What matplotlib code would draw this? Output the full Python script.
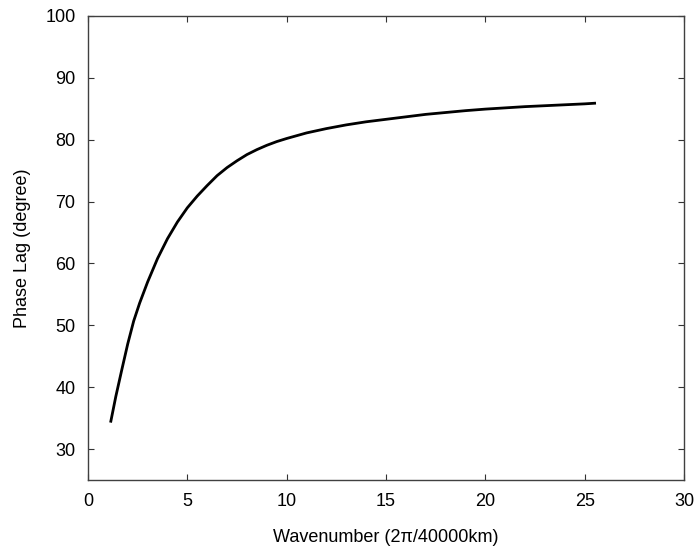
import matplotlib
matplotlib.use("Agg")
import matplotlib.pyplot as plt

# values
wavenumber = [1.15, 1.4, 1.7, 2.0, 2.3, 2.6, 3.0, 3.5, 4.0, 4.5, 5.0, 5.5,
              6.0, 6.5, 7.0, 7.5, 8.0, 8.5, 9.0, 9.5, 10.0, 11.0, 12.0, 13.0,
              14.0, 15.0, 16.0, 17.0, 18.0, 19.0, 20.0, 21.0, 22.0, 23.0,
              24.0, 25.0, 25.5]
phase_lag = [34.5, 38.5, 42.8, 47.0, 50.7, 53.6, 57.0, 60.8, 64.0, 66.7, 69.0, 70.9,
             72.6, 74.2, 75.5, 76.6, 77.6, 78.4, 79.1, 79.7, 80.2, 81.1, 81.8, 82.4,
             82.9, 83.3, 83.7, 84.1, 84.4, 84.7, 84.95, 85.15, 85.35, 85.5,
             85.65, 85.8, 85.9]
xticks = [0, 5, 10, 15, 20, 25, 30]
yticks = [30, 40, 50, 60, 70, 80, 90, 100]

plt.rcParams['font.family'] = ['Liberation Sans', 'DejaVu Sans']
fig = plt.figure(figsize=(6.98, 5.54), dpi=100)
ax = fig.add_axes([88/698, 1-480/554, (684-88)/698, (480-16)/554])

ax.plot(wavenumber, phase_lag, color='black', linewidth=2.0,
        solid_joinstyle='round')

ax.set_xlim(0, 30)
ax.set_ylim(25, 100)
ax.set_xticks(xticks)
ax.set_yticks(yticks)
ax.tick_params(direction='in', top=True, right=True, length=4, width=0.8,
               colors='#333333', labelcolor='black', labelsize=13, pad=9)
for s in ax.spines.values():
    s.set_color('#404040')
    s.set_linewidth(1.0)

ax.set_xlabel('Wavenumber (2\u03c0/40000km)', fontsize=13, labelpad=14)
ax.set_ylabel('Phase Lag (degree)', fontsize=13, labelpad=10)

fig.savefig('out.png', dpi=100)
